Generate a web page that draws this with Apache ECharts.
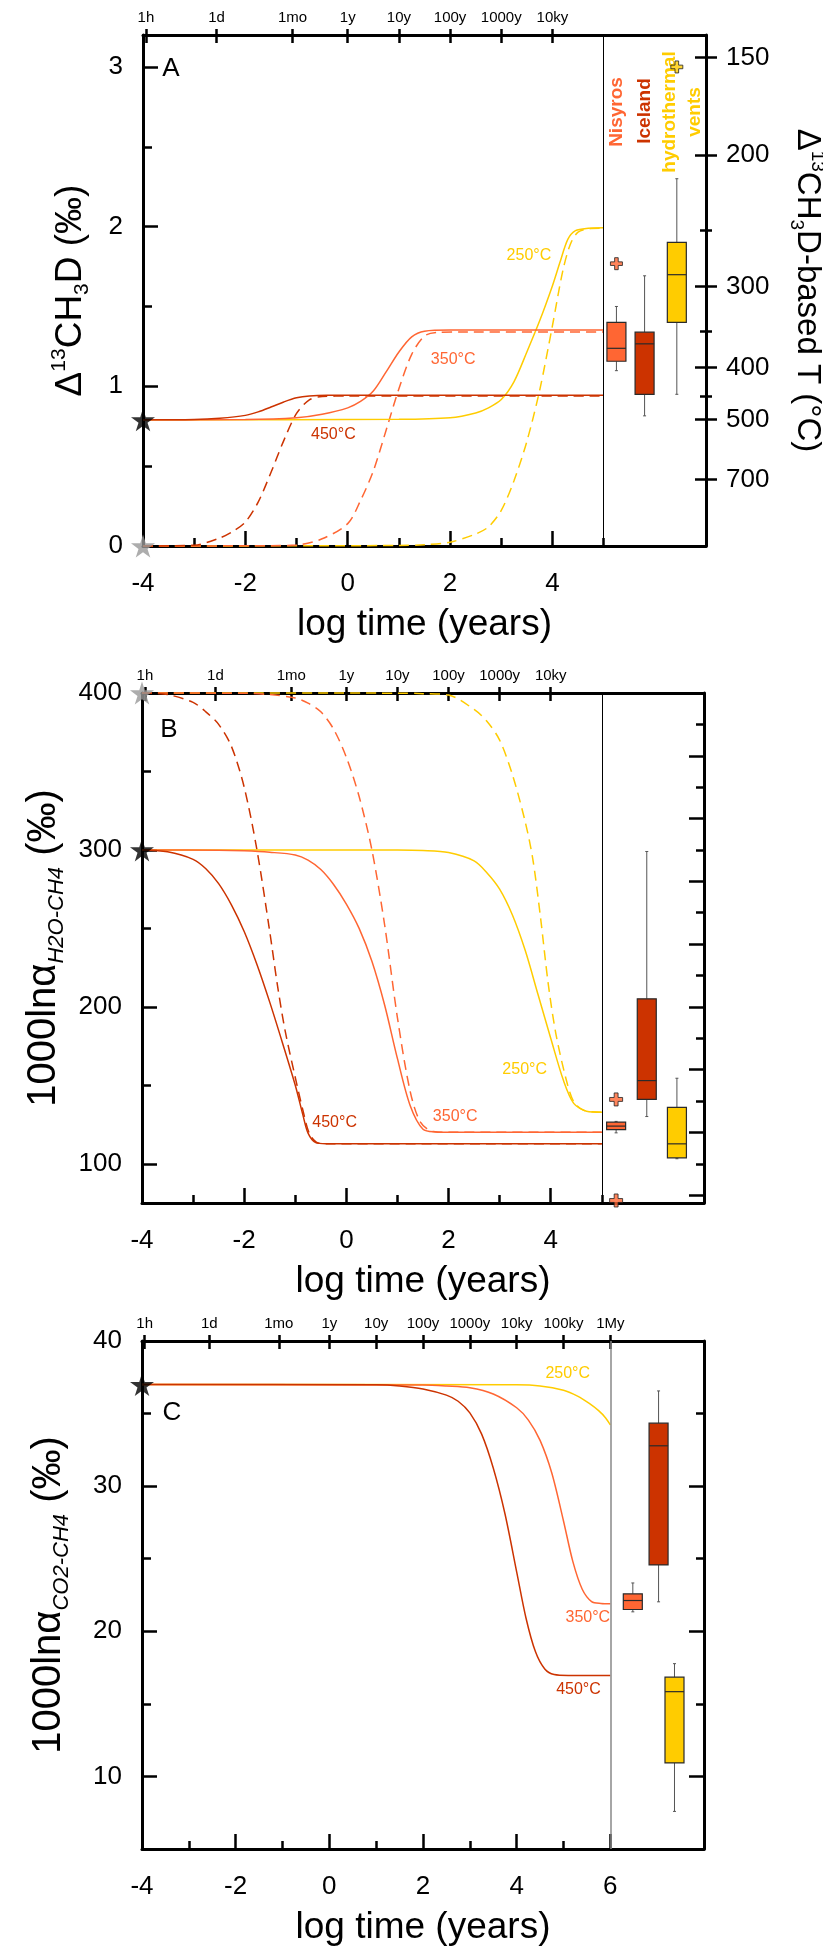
<!DOCTYPE html>
<html>
<head>
<meta charset="utf-8">
<script src="https://cdn.jsdelivr.net/npm/echarts@6/dist/echarts.min.js"></script>
<style>
html, body { margin: 0; padding: 0; background: #fff; }
#main { width: 823px; height: 1950px; }
</style>
</head>
<body>
<div id="main"></div>
<script>
// ---- tick labels ----
const topTickNames = ['1h', '1d', '1mo', '1y', '10y', '100y', '1000y', '10ky', '100ky', '1My'];
const topTickYears = [1 / 8766, 1 / 365.25, 1 / 12, 1, 10, 100, 1000, 1e4, 1e5, 1e6];
const topTickPos = topTickYears.map(v => Math.log10(v));

// right axis of panel A: temperature equivalent of D13CH3D
const tempLabels = ['150', '200', '300', '400', '500', '700'];
const tempLabelDelta = [3.06, 2.45, 1.625, 1.117, 0.793, 0.416];
const tempMinorDelta = [1.98, 1.345, 0.94]; // 250, 350, 450 C

// ---- panel A : D13CH3D vs log time ----
const aSolid450 = [[-4, 0.79], [-3, 0.792], [-2.5, 0.8], [-2, 0.818], [-1.75, 0.84], [-1.5, 0.87], [-1.25, 0.902], [-1, 0.928], [-0.75, 0.94], [-0.4, 0.944], [5, 0.944]];
const aDash450 = [[-4, 0], [-3, 0.005], [-2.5, 0.05], [-2.25, 0.09], [-2, 0.15], [-1.75, 0.275], [-1.5, 0.46], [-1.25, 0.66], [-1, 0.83], [-0.75, 0.915], [-0.5, 0.936], [0, 0.939], [5, 0.939]];
const aSolid350 = [[-4, 0.79], [-2, 0.792], [-1, 0.803], [-0.5, 0.825], [0, 0.865], [0.25, 0.905], [0.5, 0.97], [0.75, 1.09], [1, 1.215], [1.25, 1.31], [1.5, 1.345], [2, 1.352], [5, 1.352]];
const aDash350 = [[-4, 0], [-1.5, 0.002], [-1, 0.006], [-0.5, 0.045], [0, 0.14], [0.25, 0.285], [0.5, 0.47], [0.75, 0.725], [1, 0.985], [1.25, 1.2], [1.5, 1.315], [1.75, 1.337], [2.2, 1.34], [5, 1.34]];
const aSolid250 = [[-4, 0.79], [1, 0.793], [2, 0.803], [2.5, 0.833], [2.75, 0.865], [3, 0.917], [3.25, 1.03], [3.5, 1.215], [3.75, 1.41], [4, 1.63], [4.15, 1.78], [4.3, 1.92], [4.45, 1.975], [4.7, 1.99], [5, 1.993]];
const aDash250 = [[-4, 0], [1, 0.003], [1.5, 0.008], [2, 0.024], [2.5, 0.075], [2.75, 0.12], [3, 0.223], [3.25, 0.41], [3.5, 0.655], [3.75, 0.975], [4, 1.38], [4.2, 1.72], [4.35, 1.89], [4.5, 1.965], [4.75, 1.988], [5, 1.99]];
// boxes: [x, min, Q1, median, Q3, max] for Nisyros, Iceland, hydrothermal vents
const boxesA = [[5.25, 1.098, 1.157, 1.238, 1.40, 1.50], [5.80, 0.815, 0.95, 1.266, 1.339, 1.692], [6.43, 0.95, 1.40, 1.699, 1.901, 2.30]];
const outliersA = [[5.25, 1.768, 0], [6.43, 3.0, 2]];
const startA = [[-4, 0.79]];
const startEqA = [[-4, 0]];

// ---- panel B : 1000 ln alpha H2O-CH4 ----
const bSolid450 = [[-4, 300], [-3.5, 298.8], [-3, 294], [-2.75, 288], [-2.5, 278.5], [-2.25, 265], [-2, 248], [-1.75, 227], [-1.5, 203], [-1.25, 177], [-1, 150], [-0.85, 131], [-0.75, 119.5], [-0.6, 113.5], [-0.4, 112.8], [5, 112.7]];
const bDash450 = [[-4, 400], [-3.5, 399], [-3, 394], [-2.75, 388], [-2.5, 380], [-2.25, 366], [-2, 340], [-1.75, 300], [-1.5, 248], [-1.35, 214], [-1.2, 185], [-1, 155], [-0.85, 134], [-0.72, 119], [-0.55, 113.2], [-0.3, 112.7], [5, 112.7]];
const bSolid350 = [[-4, 300], [-2.5, 299.8], [-2, 299.4], [-1.5, 298.5], [-1, 296.8], [-0.75, 293.5], [-0.5, 287.5], [-0.25, 278], [0, 265.5], [0.25, 250], [0.5, 229], [0.75, 201], [1, 167], [1.25, 137], [1.5, 122], [1.75, 120.3], [2, 120.1], [5, 120.1]];
const bDash350 = [[-4, 400], [-2, 399.8], [-1.5, 399], [-1, 396.8], [-0.75, 393.5], [-0.5, 388], [-0.25, 377], [0, 359], [0.25, 334], [0.5, 300], [0.75, 252], [1, 193], [1.25, 146], [1.45, 126.5], [1.7, 120.5], [2, 120.1], [5, 120.1]];
const bSolid250 = [[-4, 300], [1, 299.9], [1.5, 299.6], [2, 298.3], [2.5, 293], [2.75, 285.5], [3, 275], [3.25, 258.5], [3.5, 236], [3.75, 208], [4, 180], [4.25, 153], [4.45, 138.5], [4.7, 133.5], [5, 132.9]];
const bDash250 = [[-4, 400], [1, 399.9], [1.5, 399.6], [2, 398.7], [2.5, 389.5], [2.75, 382], [3, 370], [3.25, 348], [3.5, 318], [3.65, 294], [3.8, 257], [3.95, 215], [4.1, 183], [4.3, 154], [4.45, 139.5], [4.65, 134], [5, 132.9]];
const boxesB = [[5.28, 119.7, 121.8, 124, 126.5, 127], [5.88, 130.1, 141, 153, 205.1, 299], [6.47, 103.2, 103.8, 112.7, 136, 154.5]];
const outliersB = [[5.28, 141, 0], [5.28, 76.6, 0]];
const startB = [[-4, 300]];
const startEqB = [[-4, 400]];

// ---- panel C : 1000 ln alpha CO2-CH4 ----
const cSolid450 = [[-4, 37], [1, 36.98], [1.5, 36.9], [2, 36.7], [2.5, 36.27], [2.75, 35.85], [3, 35.05], [3.25, 33.6], [3.5, 31.25], [3.75, 28.1], [4, 24.1], [4.2, 20.9], [4.4, 18.6], [4.6, 17.4], [4.8, 17.02], [5.1, 16.96], [6, 16.96]];
const cSolid350 = [[-4, 37], [2, 36.97], [2.5, 36.9], [3, 36.78], [3.5, 36.35], [4, 35.4], [4.25, 34.55], [4.5, 33.15], [4.75, 30.9], [5, 27.6], [5.2, 24.8], [5.4, 22.9], [5.6, 22.05], [5.8, 21.92], [6, 21.9]];
const cSolid250 = [[-4, 37], [4, 36.98], [4.5, 36.9], [5, 36.6], [5.3, 36.2], [5.55, 35.7], [5.75, 35.2], [5.9, 34.7], [6, 34.22]];
const boxesC = [[6.48, 21.34, 21.5, 22.12, 22.58, 23.33], [7.03, 22.03, 24.57, 32.78, 34.34, 36.56], [7.37, 7.59, 10.93, 15.84, 16.84, 17.77]];
const startC = [[-4, 37]];

// ---- styles ----
const FONT = 'Liberation Sans, Arial, Helvetica, sans-serif';
const col450 = '#CC3300', col350 = '#FF6633', col250 = '#FFCC00';
const siteColors = ['#FF6633', '#CC3300', '#FFCC00'];
const starPath = 'path://M50,0 L61,35 L98,35 L68,57 L79,91 L50,70 L21,91 L32,57 L2,35 L39,35 Z';
const plusPath = 'path://M35,0 H65 V35 H100 V65 H65 V100 H35 V65 H0 V35 H35 Z';

function nearestName(values, names) {
  return function (v) {
    let best = 0;
    for (let i = 1; i < values.length; i++) {
      if (Math.abs(values[i] - v) < Math.abs(values[best] - v)) best = i;
    }
    return names[best];
  };
}

function range(a, b, step) {
  const out = [];
  for (let v = a; v <= b + 1e-9; v += step) out.push(Math.round(v * 1000) / 1000);
  return out;
}

const grids = [
  { left: 143, right: 117, top: 35, height: 511, xmax: 7, nTop: 8 },
  { left: 142, right: 119, top: 693, height: 510, xmax: 7, nTop: 8 },
  { left: 142, right: 119, top: 1341, height: 508, xmax: 8, nTop: 10 }
];

const xAxes = [];
grids.forEach(function (g, p) {
  const last = g.xmax === 7 ? 5 : 6;
  const even = range(-4, last, 2);
  const odd = range(-3, last, 2);
  const base = { type: 'value', gridIndex: p, min: -4, max: g.xmax, splitLine: { show: false } };
  xAxes.push(Object.assign({}, base, {
    position: 'bottom',
    axisLine: { show: true, onZero: false, lineStyle: { color: '#000', width: 3 } },
    axisTick: { show: true, inside: true, length: 15, customValues: even, lineStyle: { color: '#000', width: 2.5 } },
    axisLabel: { customValues: even.filter(v => g.xmax === 8 || v <= 4), fontSize: 26, margin: 25, color: '#000', fontFamily: FONT },
    name: 'log time (years)', nameLocation: 'middle', nameGap: 60,
    nameTextStyle: { fontSize: 37, color: '#000', fontFamily: FONT }
  }));
  xAxes.push(Object.assign({}, base, {
    position: 'bottom',
    axisLine: { show: false, onZero: false },
    axisTick: { show: true, inside: true, length: 8, customValues: odd, lineStyle: { color: '#000', width: 2.5 } },
    axisLabel: { show: false }
  }));
  const tp = topTickPos.slice(0, g.nTop);
  xAxes.push(Object.assign({}, base, {
    position: 'top',
    axisLine: { show: true, onZero: false, lineStyle: { color: '#000', width: 3 } },
    axisTick: { show: true, inside: false, length: 6, customValues: tp, lineStyle: { color: '#000', width: 2.5 } },
    axisLabel: { customValues: tp, formatter: nearestName(topTickPos, topTickNames), fontSize: 15, margin: 10, color: '#000', fontFamily: FONT }
  }));
  xAxes.push(Object.assign({}, base, {
    position: 'top',
    axisLine: { show: false, onZero: false },
    axisTick: { show: true, inside: true, length: 8, customValues: tp, lineStyle: { color: '#000', width: 2.5 } },
    axisLabel: { show: false }
  }));
});

const yTitleRich = {
  n: { fontSize: 37, lineHeight: 44, fontFamily: FONT, color: '#000' },
  sup: { fontSize: 21, lineHeight: 21, verticalAlign: 'top', fontFamily: FONT, color: '#000' },
  sub: { fontSize: 21, lineHeight: 21, verticalAlign: 'bottom', fontFamily: FONT, color: '#000' },
  b: { fontSize: 40, lineHeight: 48, fontFamily: FONT, color: '#000' },
  subi: { fontSize: 22, lineHeight: 22, verticalAlign: 'bottom', fontStyle: 'italic', fontFamily: FONT, color: '#000' },
  rn: { fontSize: 33, lineHeight: 40, fontFamily: FONT, color: '#000' },
  rsup: { fontSize: 19, lineHeight: 19, verticalAlign: 'top', fontFamily: FONT, color: '#000' },
  rsub: { fontSize: 19, lineHeight: 19, verticalAlign: 'bottom', fontFamily: FONT, color: '#000' }
};

function leftAxes(p, min, max, major, minor, name, gap) {
  const base = { type: 'value', gridIndex: p, min: min, max: max, splitLine: { show: false } };
  return [
    Object.assign({}, base, {
      position: 'left',
      axisLine: { show: true, onZero: false, lineStyle: { color: '#000', width: 3 } },
      axisTick: { show: true, inside: true, length: 15, customValues: major, lineStyle: { color: '#000', width: 2.5 } },
      axisLabel: { customValues: major, fontSize: 26, margin: 20, color: '#000', fontFamily: FONT },
      name: name, nameLocation: 'middle', nameRotate: 90, nameGap: gap,
      nameTextStyle: { rich: yTitleRich }
    }),
    Object.assign({}, base, {
      position: 'left',
      axisLine: { show: false, onZero: false },
      axisTick: { show: true, inside: true, length: 9, customValues: minor, lineStyle: { color: '#000', width: 2.5 } },
      axisLabel: { show: false }
    })
  ];
}

function rightTicks(p, min, max, vals, len, inside, withLine) {
  return {
    type: 'value', gridIndex: p, min: min, max: max, position: 'right', splitLine: { show: false },
    axisLine: { show: !!withLine, onZero: false, lineStyle: { color: '#000', width: 3 } },
    axisTick: { show: true, inside: inside, length: len, customValues: vals, lineStyle: { color: '#000', width: 2.5 } },
    axisLabel: { show: false }
  };
}

const yAxes = [];
// panel A: 0..5
yAxes.push.apply(yAxes, leftAxes(0, 0, 3.2, [0, 1, 2, 3], [0.5, 1.5, 2.5], '{n|Δ}{sup|13}{n|CH}{sub|3}{n|D (‰)}', 50));
const rA = rightTicks(0, 0, 3.2, tempLabelDelta, 11, false, true);
rA.axisLabel = { show: true, customValues: tempLabelDelta, formatter: nearestName(tempLabelDelta, tempLabels), fontSize: 26, margin: 20, color: '#000', fontFamily: FONT };
rA.name = '{rn|Δ}{rsup|13}{rn|CH}{rsub|3}{rn|D-based T (°C)}';
rA.nameLocation = 'middle'; rA.nameRotate = -90; rA.nameGap = 81;
rA.nameTextStyle = { rich: yTitleRich };
yAxes.push(rA);
yAxes.push(rightTicks(0, 0, 3.2, tempLabelDelta, 11, true, false));
yAxes.push(rightTicks(0, 0, 3.2, tempMinorDelta, 6, false, false));
yAxes.push(rightTicks(0, 0, 3.2, tempMinorDelta, 6, true, false));
// panel B: 6..9
yAxes.push.apply(yAxes, leftAxes(1, 75, 400, [100, 200, 300, 400], [150, 250, 350], '{b|1000ln}{b|α}{subi|H2O-CH4}{b| (‰)}', 73));
yAxes.push(rightTicks(1, 75, 400, range(80, 400, 40), 15, true, true));
yAxes.push(rightTicks(1, 75, 400, range(100, 380, 40), 8, true, false));
// panel C: 10..13
yAxes.push.apply(yAxes, leftAxes(2, 5, 40, [10, 20, 30, 40], [15, 25, 35], '{b|1000ln}{b|α}{subi|CO2-CH4}{b| (‰)}', 69));
yAxes.push(rightTicks(2, 5, 40, [10, 20, 30], 15, true, true));
yAxes.push(rightTicks(2, 5, 40, [15, 25, 35], 8, true, false));

const yMain = [0, 6, 10];
const xMain = [0, 4, 8];

function curve(p, data, color, dashed, label, coord) {
  const s = {
    type: 'line', xAxisIndex: xMain[p], yAxisIndex: yMain[p], data: data,
    symbol: 'none', smooth: 0.3, clip: false, z: 3,
    lineStyle: { color: color, width: 1.5, type: dashed ? [10, 6] : 'solid' },
    silent: true
  };
  if (label) {
    s.markPoint = {
      symbol: 'circle', symbolSize: 0, silent: true,
      label: { show: true, position: 'inside', formatter: label, color: color, fontSize: 16, fontFamily: FONT },
      data: [{ coord: coord }]
    };
  }
  return s;
}

function boxSeries(p, data) {
  return {
    type: 'custom', xAxisIndex: xMain[p], yAxisIndex: yMain[p], data: data, clip: false, z: 4, silent: true,
    renderItem: function (params, api) {
      const x = api.value(0);
      const lo = api.coord([x, api.value(1)]);
      const q1 = api.coord([x, api.value(2)]);
      const md = api.coord([x, api.value(3)]);
      const q3 = api.coord([x, api.value(4)]);
      const hi = api.coord([x, api.value(5)]);
      const w = 19;
      const fill = siteColors[params.dataIndex];
      return {
        type: 'group',
        children: [
          { type: 'line', shape: { x1: lo[0], y1: lo[1], x2: q1[0], y2: q1[1] }, style: { stroke: '#555', lineWidth: 1 } },
          { type: 'line', shape: { x1: q3[0], y1: q3[1], x2: hi[0], y2: hi[1] }, style: { stroke: '#555', lineWidth: 1 } },
          { type: 'line', shape: { x1: lo[0] - 1.5, y1: lo[1], x2: lo[0] + 1.5, y2: lo[1] }, style: { stroke: '#555', lineWidth: 1 } },
          { type: 'line', shape: { x1: hi[0] - 1.5, y1: hi[1], x2: hi[0] + 1.5, y2: hi[1] }, style: { stroke: '#555', lineWidth: 1 } },
          { type: 'rect', shape: { x: q3[0] - w / 2, y: q3[1], width: w, height: q1[1] - q3[1] }, style: { fill: fill, stroke: '#2a2a2a', lineWidth: 1.2 } },
          { type: 'line', shape: { x1: md[0] - w / 2, y1: md[1], x2: md[0] + w / 2, y2: md[1] }, style: { stroke: '#2a2a2a', lineWidth: 1.2 } }
        ]
      };
    }
  };
}

function outlierSeries(p, data, size) {
  return {
    type: 'scatter', xAxisIndex: xMain[p], yAxisIndex: yMain[p], clip: false, z: 5, silent: true,
    symbol: plusPath, symbolSize: size,
    data: data.map(d => ({ value: [d[0], d[1]], itemStyle: { color: siteColors[d[2]] } })),
    itemStyle: { borderColor: '#222', borderWidth: 1 }
  };
}

function starSeries(p, data, color) {
  return {
    type: 'scatter', xAxisIndex: xMain[p], yAxisIndex: yMain[p], data: data, clip: false, z: 6, silent: true,
    symbol: starPath, symbolSize: [24, 23], itemStyle: { color: color }
  };
}

function separator(p, x, color, width) {
  return {
    type: 'line', xAxisIndex: xMain[p], yAxisIndex: yMain[p], data: [], silent: true,
    markLine: {
      silent: true, symbol: 'none', label: { show: false },
      lineStyle: { color: color, width: width, type: 'solid' },
      data: [{ xAxis: x }]
    }
  };
}

const series = [
  separator(0, 5, '#000', 1),
  curve(0, aDash250, col250, true), curve(0, aDash350, col350, true), curve(0, aDash450, col450, true),
  curve(0, aSolid250, col250, false, '250°C', [3.54, 1.82]),
  curve(0, aSolid350, col350, false, '350°C', [2.06, 1.165]),
  curve(0, aSolid450, col450, false, '450°C', [-0.28, 0.70]),
  boxSeries(0, boxesA), outlierSeries(0, outliersA, 12),
  starSeries(0, startEqA, '#999'), starSeries(0, startA, '#000'),

  separator(1, 5, '#000', 1),
  curve(1, bDash250, col250, true), curve(1, bDash350, col350, true), curve(1, bDash450, col450, true),
  curve(1, bSolid250, col250, false, '250°C', [3.49, 160]),
  curve(1, bSolid350, col350, false, '350°C', [2.13, 130]),
  curve(1, bSolid450, col450, false, '450°C', [-0.23, 126]),
  boxSeries(1, boxesB), outlierSeries(1, outliersB, 13),
  starSeries(1, startEqB, '#999'), starSeries(1, startB, '#000'),

  separator(2, 6, '#888', 1.5),
  curve(2, cSolid250, col250, false, '250°C', [5.09, 37.73]),
  curve(2, cSolid350, col350, false, '350°C', [5.52, 20.95]),
  curve(2, cSolid450, col450, false, '450°C', [5.32, 16.0]),
  boxSeries(2, boxesC),
  starSeries(2, startC, '#000')
];

const graphic = [
  { type: 'text', x: 171, y: 69, style: { text: 'A', fontSize: 26, fontFamily: FONT, fill: '#000', align: 'center', verticalAlign: 'middle' } },
  { type: 'text', x: 169, y: 730, style: { text: 'B', fontSize: 26, fontFamily: FONT, fill: '#000', align: 'center', verticalAlign: 'middle' } },
  { type: 'text', x: 172, y: 1413, style: { text: 'C', fontSize: 26, fontFamily: FONT, fill: '#000', align: 'center', verticalAlign: 'middle' } },
  { type: 'text', x: 617, y: 112, rotation: Math.PI / 2, style: { text: 'Nisyros', fontSize: 19, fontWeight: 'bold', fontFamily: FONT, fill: siteColors[0], align: 'center', verticalAlign: 'middle' } },
  { type: 'text', x: 645, y: 111, rotation: Math.PI / 2, style: { text: 'Iceland', fontSize: 19, fontWeight: 'bold', fontFamily: FONT, fill: siteColors[1], align: 'center', verticalAlign: 'middle' } },
  { type: 'text', x: 682, y: 112, rotation: Math.PI / 2, style: { text: 'hydrothermal\nvents', fontSize: 19, lineHeight: 25, fontWeight: 'bold', fontFamily: FONT, fill: siteColors[2], align: 'center', verticalAlign: 'middle' } }
];

const chart = echarts.init(document.getElementById('main'), null, { renderer: 'canvas' });
chart.setOption({
  animation: false,
  backgroundColor: '#fff',
  textStyle: { fontFamily: FONT },
  grid: grids.map(g => ({ left: g.left, right: g.right, top: g.top, height: g.height, containLabel: false, outerBoundsMode: 'none' })),
  xAxis: xAxes,
  yAxis: yAxes,
  series: series,
  graphic: graphic
});
</script>
</body>
</html>
